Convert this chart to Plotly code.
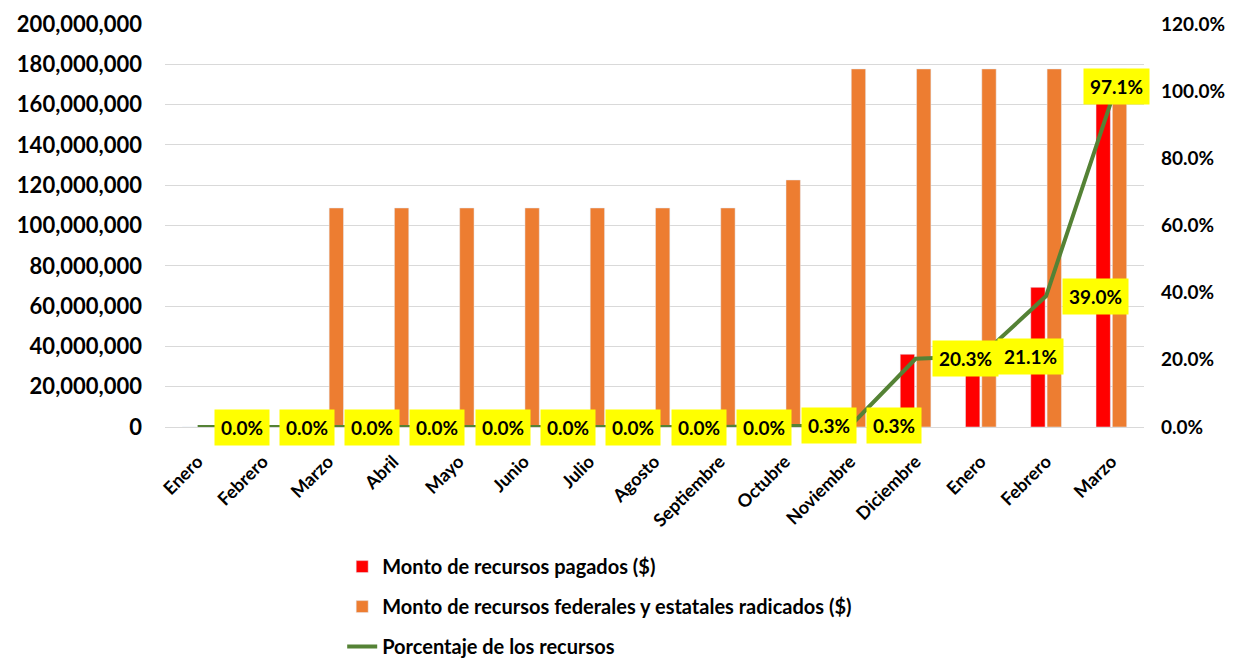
import plotly.graph_objects as go

meses = ["Enero", "Febrero", "Marzo", "Abril", "Mayo", "Junio", "Julio", "Agosto",
         "Septiembre", "Octubre", "Noviembre", "Diciembre", "Enero", "Febrero", "Marzo"]
pagados = [0, 0, 0, 0, 0, 0, 0, 0, 0, 370000, 530000, 36100000, 37500000, 69300000, 172500000]
radicados = [0, 0, 108700000, 108700000, 108700000, 108700000, 108700000, 108700000,
             108700000, 122600000, 177700000, 177700000, 177700000, 177700000, 177700000]
porcentaje = [0, 0, 0, 0, 0, 0, 0, 0, 0, 0.003, 0.003, 0.203, 0.211, 0.390, 0.971]

x = list(range(len(meses)))
fuente = "Lato"

fig = go.Figure()
fig.add_trace(go.Bar(x=x, y=pagados, name="Monto de recursos pagados ($)",
                     marker_color="#FF0000", legendgroup="a"))
fig.add_trace(go.Bar(x=x, y=radicados, name="Monto de recursos federales y estatales radicados ($)",
                     marker_color="#ED7D31", legendgroup="b"))
fig.add_trace(go.Scatter(x=x, y=porcentaje, name="Porcentaje de los recursos", yaxis="y2",
                         mode="lines", line=dict(color="#548235", width=4), legendgroup="c"))

# etiquetas amarillas a la derecha de cada punto
for i, p in enumerate(porcentaje):
    ultimo = i == len(porcentaje) - 1
    fig.add_annotation(
        x=i, y=p, xref="x", yref="y2", text="<b>{:.1%}</b>".format(p),
        showarrow=False, bgcolor="#FFFF00", borderpad=6,
        xanchor="center" if ultimo else "left",
        xshift=5 if ultimo else 16, yshift=14 if ultimo else 0,
        font=dict(family=fuente, size=19, color="black"))

# la página tiene 8px de margen, por eso la figura es algo más chica
fig.update_layout(
    width=1219, height=651,
    margin=dict(l=157, r=83, t=16, b=232, autoexpand=False),
    plot_bgcolor="white", paper_bgcolor="white",
    barmode="group", bargap=0.5, bargroupgap=0.12,
    font=dict(family=fuente, color="black"),
    xaxis=dict(range=[-0.5, 14.5], tickmode="array", tickvals=x,
               ticktext=["<b>%s</b>" % m for m in meses], tickangle=-45,
               tickfont=dict(size=18), showgrid=False, showline=True,
               linecolor="#d9d9d9", ticks="", automargin=False, ticklabelstandoff=16),
    yaxis=dict(range=[0, 200000000], dtick=20000000, tickformat=",d",
               gridcolor="#d9d9d9", tickfont=dict(size=22, family=fuente, weight="bold"),
               zeroline=False, ticks="", ticklabelstandoff=22, automargin=False),
    yaxis2=dict(range=[0, 1.2], dtick=0.2, tickformat=".1%", overlaying="y", side="right",
                showgrid=False, zeroline=False, tickfont=dict(size=19, weight="bold"),
                ticklabelstandoff=16, automargin=False),
    legend=dict(x=0.181, y=-0.298, xanchor="left", yanchor="top", traceorder="grouped",
                tracegroupgap=11, font=dict(size=20, weight="bold")),
)

fig.write_html("out.html")
